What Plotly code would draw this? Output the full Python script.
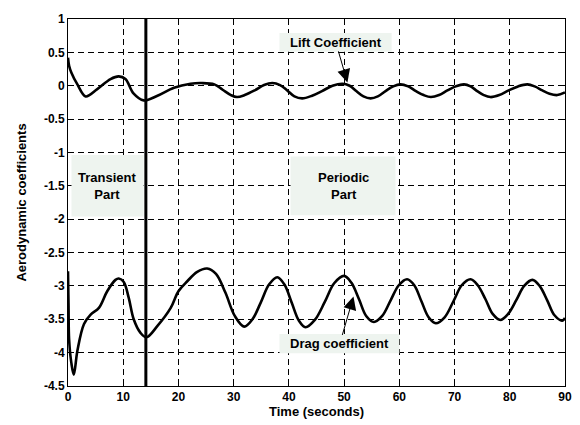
import plotly.graph_objects as go

# ---- data ----
time_lift = [0, 0.2, 0.6, 1.7, 3.2, 5.3, 7.7, 9.2, 10.4, 11.9, 13.7, 16.2, 19.2, 22.2, 24.2,
             26.5, 28, 29.5, 30.6, 32, 33.8, 35.5, 37, 38.4, 39.7, 41, 42.4, 44.2, 46, 47.9,
             49.7, 51, 52.2, 53.5, 54.8, 56.1, 57.5, 58.9, 60.2, 61.6, 63, 64.4, 65.7, 67.2,
             68.7, 70.2, 71.7, 72.9, 74.1, 75.3, 76.5, 78.1, 79.8, 81.5, 83.2, 84.5, 85.9,
             87.2, 88.6, 90]
lift = [0.42, 0.3, 0.2, 0.02, -0.16, -0.05, 0.1, 0.14, 0.1, -0.12, -0.22, -0.15, -0.03, 0.03,
        0.04, 0.02, -0.06, -0.14, -0.17, -0.14, -0.07, 0.01, 0.04, 0.01, -0.07, -0.16, -0.19,
        -0.15, -0.08, 0.0, 0.03, 0.0, -0.08, -0.16, -0.19, -0.16, -0.08, -0.01, 0.02, -0.01,
        -0.08, -0.14, -0.17, -0.14, -0.07, -0.01, 0.02, -0.01, -0.08, -0.14, -0.17, -0.14,
        -0.07, -0.01, 0.02, -0.01, -0.07, -0.12, -0.14, -0.1]

time_drag = [0, 0.1, 0.2, 0.6, 1.05, 1.7, 2.9, 4.1, 5.6, 7.1, 8.6, 9.2, 10.1, 11, 11.9, 13.1,
             14.2, 16.2, 18.6, 20, 21.6, 23.4, 25.2, 26.8, 28.5, 30.2, 31.9, 33.4, 34.9, 36.4,
             37.9, 39.2, 40.5, 41.8, 43, 44.7, 46.5, 48.2, 50, 51.3, 52.7, 54, 55.4, 56.9,
             58.4, 59.9, 61.4, 62.7, 64, 65.3, 66.6, 68.2, 69.8, 71.3, 72.9, 74.2, 75.6, 76.9,
             78.3, 79.7, 81.2, 82.6, 84.1, 85.4, 86.8, 88.1, 89.5, 90]
drag = [-2.78, -3.3, -3.8, -4.15, -4.33, -3.97, -3.57, -3.43, -3.33, -3.08, -2.91, -2.89,
        -2.94, -3.18, -3.5, -3.7, -3.77, -3.6, -3.33, -3.08, -2.93, -2.79, -2.74, -2.82, -3.1,
        -3.45, -3.61, -3.5, -3.25, -2.98, -2.87, -2.98, -3.25, -3.52, -3.62, -3.51, -3.24,
        -2.96, -2.85, -2.95, -3.2, -3.45, -3.54, -3.45, -3.22, -2.99, -2.9, -2.99, -3.23,
        -3.47, -3.56, -3.47, -3.23, -2.99, -2.9, -2.99, -3.2, -3.42, -3.51, -3.42, -3.21,
        -3.0, -2.91, -3.0, -3.22, -3.44, -3.52, -3.48]

split_time = 14.1

x_ticks = [0, 10, 20, 30, 40, 50, 60, 70, 80, 90]
x_tick_labels = ["0", "10", "20", "30", "40", "50", "60", "70", "80", "90"]
y_ticks = [1, 0.5, 0, -0.5, -1, -1.5, -2, -2.5, -3, -3.5, -4, -4.5]
y_tick_labels = ["1", "0.5", "0", "-0.5", "-1", "-1.5", "-2", "-2.5", "-3", "-3.5", "-4", "-4.5"]

FONT = "Liberation Sans, Arial, sans-serif"
BOXC = "#eef4ef"

fig = go.Figure()
fig.add_trace(go.Scatter(x=time_lift, y=lift, mode="lines",
                         line=dict(color="black", width=2.6, shape="spline", smoothing=1.0)))
fig.add_trace(go.Scatter(x=time_drag, y=drag, mode="lines",
                         line=dict(color="black", width=2.6, shape="spline", smoothing=1.0)))

# separating line
fig.add_shape(type="line", x0=split_time, x1=split_time, y0=-4.5, y1=1,
              xref="x", yref="y", line=dict(color="black", width=3), layer="above")

# label boxes
boxes = [
    (0.63, 13.7, -1.04, -1.96),
    (40.3, 59.3, -1.06, -1.94),
    (38.3, 58.6, 0.79, 0.51),
    (38.3, 60.0, -3.72, -4.01),
]
for x0, x1, y0, y1 in boxes:
    fig.add_shape(type="rect", x0=x0, x1=x1, y0=y0, y1=y1, xref="x", yref="y",
                  fillcolor=BOXC, line=dict(width=0), layer="above")

tf = dict(family=FONT, size=13, color="black", weight="bold")
fig.add_annotation(x=7.0, y=-1.5, text="Transient<br>Part", showarrow=False, font=tf,
                   xref="x", yref="y")
fig.add_annotation(x=49.8, y=-1.5, text="Periodic<br>Part", showarrow=False, font=tf,
                   xref="x", yref="y")
fig.add_annotation(x=50.6, y=0.05, ax=48.5, ay=0.65, axref="x", ayref="y",
                   text="Lift Coefficient", showarrow=True, arrowhead=2, arrowsize=2.6,
                   arrowwidth=1, arrowcolor="black", font=tf, xref="x", yref="y")
fig.add_annotation(x=51.7, y=-3.16, ax=49.2, ay=-3.87, axref="x", ayref="y",
                   text="Drag coefficient", showarrow=True, arrowhead=2, arrowsize=2.6,
                   arrowwidth=1, arrowcolor="black", font=tf, xref="x", yref="y")

# x-axis title placed explicitly below the tick labels
fig.add_annotation(x=0.5, y=-0.07, xref="paper", yref="paper", text="Time (seconds)",
                   showarrow=False, yanchor="middle",
                   font=dict(family=FONT, size=13, color="black", weight="bold"))

axis_common = dict(showline=True, linecolor="black", linewidth=1, mirror="allticks",
                   ticks="inside", ticklen=4, tickcolor="black",
                   showgrid=True, gridcolor="black", gridwidth=1, griddash="6px,4px",
                   zeroline=False, tickfont=dict(family=FONT, size=12, color="black", weight="bold"))

fig.update_xaxes(range=[0, 90], tickvals=x_ticks, ticktext=x_tick_labels,
                 automargin=False, **axis_common)
fig.update_yaxes(range=[-4.5, 1], tickvals=y_ticks, ticktext=y_tick_labels,
                 title=dict(text="Aerodynamic coefficients", font=dict(family=FONT, size=13, color="black", weight="bold"),
                            standoff=14),
                 **axis_common)

fig.update_layout(width=580, height=425, margin=dict(l=68, r=15, t=14, b=39),
                  plot_bgcolor="white", paper_bgcolor="white", showlegend=False)

fig.write_html("out.html")
